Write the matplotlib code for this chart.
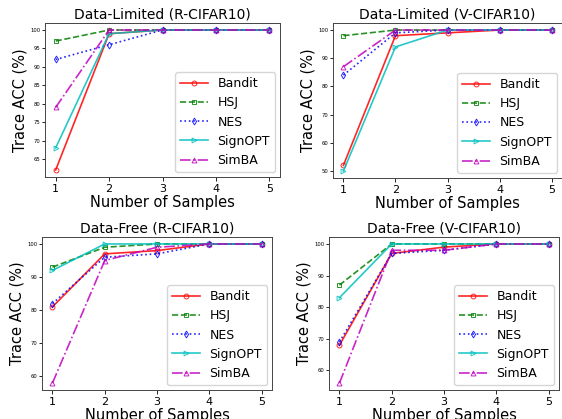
import matplotlib.pyplot as plt
import numpy as np

# Number of samples on the x axis
samples = [1, 2, 3, 4, 5]
methods = ['Bandit', 'HSJ', 'NES', 'SignOPT', 'SimBA']

# Trace accuracy (%) per panel and method
dl_r = {
    'Bandit':  [62, 99, 100, 100, 100],
    'HSJ':     [97, 100, 100, 100, 100],
    'NES':     [92, 96, 100, 100, 100],
    'SignOPT': [68, 99, 100, 100, 100],
    'SimBA':   [79, 100, 100, 100, 100],
}
dl_v = {
    'Bandit':  [52, 98, 99, 100, 100],
    'HSJ':     [98, 100, 100, 100, 100],
    'NES':     [84, 99, 100, 100, 100],
    'SignOPT': [50, 94, 100, 100, 100],
    'SimBA':   [87, 100, 100, 100, 100],
}
df_r = {
    'Bandit':  [81, 97, 98, 100, 100],
    'HSJ':     [93, 99, 100, 100, 100],
    'NES':     [82, 96, 97, 100, 100],
    'SignOPT': [92, 100, 100, 100, 100],
    'SimBA':   [58, 95, 99, 100, 100],
}
df_v = {
    'Bandit':  [68, 97, 99, 100, 100],
    'HSJ':     [87, 100, 100, 100, 100],
    'NES':     [69, 97, 98, 100, 100],
    'SignOPT': [83, 100, 100, 100, 100],
    'SimBA':   [56, 98, 98, 100, 100],
}

titles = ['Data-Limited (R-CIFAR10)', 'Data-Limited (V-CIFAR10)',
          'Data-Free (R-CIFAR10)', 'Data-Free (V-CIFAR10)']
panels = [dl_r, dl_v, df_r, df_v]

styles = {
    'Bandit':  dict(color='red', linestyle='-', marker='o'),
    'HSJ':     dict(color='green', linestyle='--', marker='s'),
    'NES':     dict(color='blue', linestyle=':', marker='d'),
    'SignOPT': dict(color='c', linestyle='-', marker='>'),
    'SimBA':   dict(color='m', linestyle='-.', marker='^'),
}

fig = plt.figure(figsize=(5.62, 4.19), dpi=100)
W, H = 562, 419
# axes boxes in pixels: left, top, right, bottom
boxes = [(45, 23, 280, 177), (333, 23, 562, 178),
         (42, 237, 272, 390), (329, 237, 559, 390)]

for box, data, title in zip(boxes, panels, titles):
    l, t, r, b = box
    ax = fig.add_axes([l / W, 1 - b / H, (r - l) / W, (b - t) / H])
    for m in methods:
        ax.plot(samples, data[m], label=m, linewidth=1.2, markersize=3.5,
                markerfacecolor='none', markeredgewidth=0.7, alpha=0.85,
                **styles[m])
    ax.set_title(title, fontsize=10, pad=3)
    ax.set_xlabel('Number of Samples', fontsize=10.5, labelpad=1)
    ax.set_ylabel('Trace ACC (%)', fontsize=10.5, labelpad=2)
    ax.set_xticks(samples)
    ax.tick_params(axis='x', labelsize=8, pad=2, width=0.6, length=3)
    ax.tick_params(axis='y', labelsize=3.8, pad=1.5, width=0.6, length=2)
    for s in ax.spines.values():
        s.set_linewidth(0.7)
        s.set_edgecolor('#444444')
    ax.legend(loc='lower right', fontsize=9, handlelength=2.2,
              handletextpad=0.8, labelspacing=0.5, borderpad=0.4,
              borderaxespad=0.4)

plt.savefig('out.png', dpi=100)
